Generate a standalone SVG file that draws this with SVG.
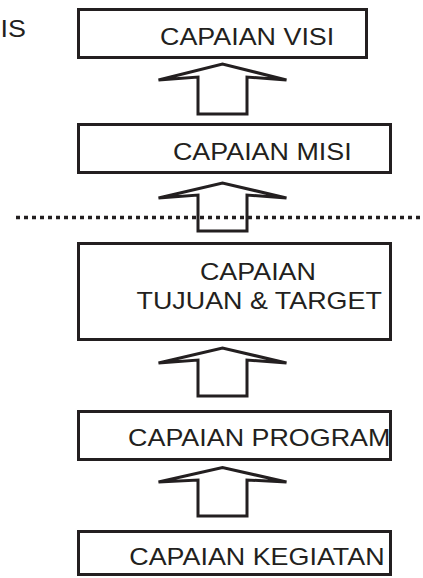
<svg xmlns="http://www.w3.org/2000/svg" width="423" height="578" viewBox="0 0 423 578">
<style>
.box{fill:#fff;stroke:#231f20;stroke-width:3}
.lbl{font-family:"Liberation Sans",Arial,Helvetica,sans-serif;font-size:23.5px;fill:#231f20}
.arr{fill:none;stroke:#231f20;stroke-width:3;stroke-linejoin:miter}
.sep{stroke:#231f20;stroke-width:3.5;stroke-dasharray:4 4;fill:none}
</style>
<rect width="423" height="578" fill="#fff"/>
<text class="lbl" transform="scale(1.144,1)" x="0.5" y="37">IS</text>
<g id="visi">
<rect class="box" x="78.5" y="9.5" width="288" height="48"/>
<text class="lbl" transform="scale(1.144,1)" x="139.9" y="45">CAPAIAN VISI</text>
</g>
<g id="misi">
<rect class="box" x="78.5" y="124.5" width="312" height="48"/>
<text class="lbl" transform="scale(1.144,1)" x="151.2" y="160">CAPAIAN MISI</text>
</g>
<g id="tujuan">
<rect class="box" x="78.5" y="243.5" width="312" height="96"/>
<text class="lbl" transform="scale(1.144,1)" x="174.8" y="280">CAPAIAN</text>
<text class="lbl" transform="scale(1.144,1)" x="119.3" y="309">TUJUAN &amp; TARGET</text>
</g>
<g id="program">
<rect class="box" x="78.5" y="411.5" width="312" height="48"/>
<text class="lbl" transform="scale(1.144,1)" x="112" y="446">CAPAIAN PROGRAM</text>
</g>
<g id="kegiatan">
<rect class="box" x="78.5" y="531.5" width="312" height="43"/>
<text class="lbl" transform="scale(1.144,1)" x="113" y="565">CAPAIAN KEGIATAN</text>
</g>
<g id="connectors">
<path class="arr" d="M198 114V77L158.5 80L222.5 64L286.5 80L247 77V114Z"/>
<path class="arr" d="M198 231V195L158.5 198L222.5 183L286.5 198L247 195V231Z"/>
<path class="arr" d="M198 396V360L158.5 363L222.5 348L286.5 363L247 360V396Z"/>
<path class="arr" d="M198 516V480L158.5 482L222.5 467.5L286.5 482L247 480V516Z"/>
<line class="sep" x1="16" y1="217.5" x2="421" y2="217.5"/>
</g>
</svg>
